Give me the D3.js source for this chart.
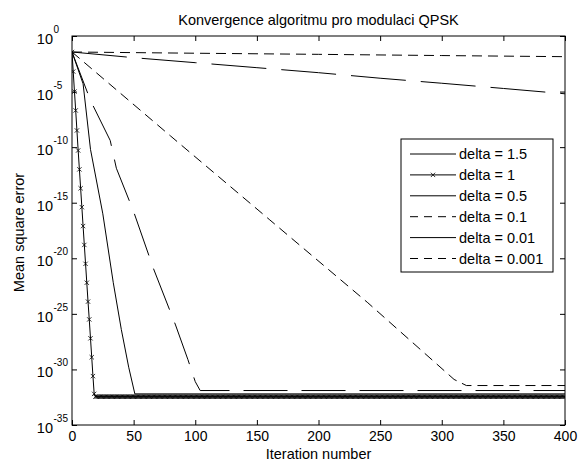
<!DOCTYPE html>
<html>
<head>
<meta charset="utf-8">
<script src="https://cdn.jsdelivr.net/npm/d3@7"></script>
<style>
  html, body { margin: 0; padding: 0; background: #fff; overflow: hidden; }
  svg { display: block; }
  svg text { font-family: "Liberation Sans", Arial, sans-serif; fill: #000; }
</style>
</head>
<body>
<div id="chart"></div>
<script>
// x ticks and y tick exponents
const iterTicks = [0, 50, 100, 150, 200, 250, 300, 350, 400];
const yTickExps = [0, -5, -10, -15, -20, -25, -30, -35];

// every series: iterations and log10(mean square error)
// delta = 1.5
const d15Iter = [0, 9, 15, 25, 33.5, 40, 46, 51, 400];
const d15Log = [-1.44, -4.3, -10.2, -16, -22.2, -26.4, -29.8, -32.2, -32.2];
// delta = 1 (a marker on every iteration)
const d1Log = [-1.44, -3.2, -5.0, -6.7, -8.5, -10.3, -12.0, -13.7, -15.4, -17.1,
  -18.8, -20.5, -22.2, -23.9, -25.5, -27.2, -28.9, -30.6, -32.2];
const d1FloorLog = -32.45; // stays there until iteration 400
// delta = 0.5
const d05Iter = [0, 15, 31, 36, 50, 66, 84, 94, 100, 104, 400];
const d05Log = [-1.44, -5.8, -9.4, -11.9, -15.8, -20.9, -26.0, -29.1, -31.1, -31.9, -31.9];
// delta = 0.1
const d01Iter = [0, 80, 160, 240, 310, 320, 400];
const d01Log = [-1.44, -9.0, -16.5, -24.0, -30.9, -31.45, -31.45];
// delta = 0.01
const d001Iter = [0, 50, 100, 150, 200, 250, 300, 350, 400];
const d001Log = [-1.44, -1.95, -2.4, -2.85, -3.3, -3.8, -4.25, -4.72, -5.2];
// delta = 0.001
const d0001Iter = [0, 100, 200, 300, 400];
const d0001Log = [-1.44, -1.55, -1.65, -1.76, -1.86];

const legendLabels = ['delta = 1.5', 'delta = 1', 'delta = 0.5', 'delta = 0.1', 'delta = 0.01', 'delta = 0.001'];

const width = 582, height = 464;
const margin = { top: 36, right: 17, bottom: 39, left: 72 };
const innerWidth = width - margin.left - margin.right,
    innerHeight = height - margin.top - margin.bottom;

const svg = d3.select('#chart')
    .append('svg')
    .attr('width', width)
    .attr('height', height);

const g = svg.append('g')
    .attr('transform', 'translate(' + margin.left + ',' + margin.top + ')');

const xScale = d3.scaleLinear().domain([0, 400]).range([0, innerWidth]);
const yScale = d3.scaleLog().domain([1e-35, 1]).range([innerHeight, 0]);
const yTickVals = yTickExps.map(e => Math.pow(10, e));

// ticks on all four sides, pointing inward
g.append('g')
    .attr('transform', 'translate(0,' + innerHeight + ')')
    .call(d3.axisBottom(xScale).tickValues(iterTicks).tickSizeInner(-5).tickSizeOuter(0).tickPadding(6.5))
    .call(a => a.select('.domain').remove())
    .selectAll('text').style('font-size', '14px').attr('font-family', null);

g.append('g')
    .call(d3.axisTop(xScale).tickValues(iterTicks).tickSizeInner(-5).tickSizeOuter(0))
    .call(a => a.select('.domain').remove())
    .call(a => a.selectAll('text').remove());

const yAxisG = g.append('g')
    .call(d3.axisLeft(yScale).tickValues(yTickVals).tickSizeInner(-5).tickSizeOuter(0))
    .call(a => a.select('.domain').remove())
    .call(a => a.selectAll('text').remove());

// 10 with a raised exponent
yAxisG.selectAll('.tick').each(function (d) {
    const t = d3.select(this);
    t.append('text')
        .attr('x', -19).attr('y', 7.5)
        .attr('text-anchor', 'end')
        .style('font-size', '14.5px')
        .text('10');
    t.append('text')
        .attr('x', -18.5).attr('y', -3.5)
        .attr('text-anchor', 'start')
        .style('font-size', '10px')
        .text(Math.round(Math.log10(d)));
});

g.append('g')
    .attr('transform', 'translate(' + innerWidth + ',0)')
    .call(d3.axisRight(yScale).tickValues(yTickVals).tickSizeInner(-5).tickSizeOuter(0))
    .call(a => a.select('.domain').remove())
    .call(a => a.selectAll('text').remove());

g.selectAll('.tick line').attr('stroke', '#000');

// curves
svg.append('clipPath').attr('id', 'clip')
    .append('rect').attr('width', innerWidth).attr('height', innerHeight);

const plot = g.append('g').attr('clip-path', 'url(#clip)');

const line = d3.line()
    .x(d => xScale(d[0]))
    .y(d => yScale(Math.pow(10, d[1])));

const zip = (xs, ys) => xs.map((x, i) => [x, ys[i]]);

const d1Points = d1Log.map((v, i) => [i, v])
    .concat(d3.range(d1Log.length, 401).map(i => [i, d1FloorLog]));

const series = [
    { pts: zip(d15Iter, d15Log), dash: null },
    { pts: d1Points, dash: null },
    { pts: zip(d05Iter, d05Log), dash: '44,14' },
    { pts: zip(d01Iter, d01Log), dash: '10,6' },
    { pts: zip(d001Iter, d001Log), dash: '55,15' },
    { pts: zip(d0001Iter, d0001Log), dash: '10,6' }
];

plot.selectAll('path.curve')
    .data(series)
    .enter()
    .append('path')
    .attr('class', 'curve')
    .attr('fill', 'none')
    .attr('stroke', '#000')
    .attr('stroke-width', 1)
    .attr('stroke-dasharray', d => d.dash)
    .attr('d', d => line(d.pts));

const xMark = d3.symbol().type(d3.symbolX).size(14);

plot.selectAll('path.mark')
    .data(d1Points)
    .enter()
    .append('path')
    .attr('class', 'mark')
    .attr('transform', d => 'translate(' + xScale(d[0]) + ',' + yScale(Math.pow(10, d[1])) + ')')
    .attr('d', xMark)
    .attr('fill', 'none')
    .attr('stroke', '#000')
    .attr('stroke-width', 0.8);

// frame
g.append('rect')
    .attr('width', innerWidth)
    .attr('height', innerHeight)
    .attr('fill', 'none')
    .attr('stroke', '#000')
    .attr('stroke-width', 1);

// legend
const legendDash = [null, null, null, '8,6', null, '8,6'];
const legend = g.append('g').attr('transform', 'translate(329,103)');
legend.append('rect')
    .attr('width', 152).attr('height', 133)
    .attr('fill', '#fff').attr('stroke', '#000');

const rows = legend.selectAll('g.row')
    .data(legendLabels)
    .enter()
    .append('g')
    .attr('class', 'row')
    .attr('transform', (d, i) => 'translate(0,' + (15 + i * 20.9) + ')');

rows.append('line')
    .attr('x1', 9).attr('x2', 55)
    .attr('stroke', '#000')
    .attr('stroke-dasharray', (d, i) => legendDash[i]);

rows.filter((d, i) => i === 1)
    .append('path')
    .attr('transform', 'translate(32,0)')
    .attr('d', xMark)
    .attr('fill', 'none')
    .attr('stroke', '#000')
    .attr('stroke-width', 0.8);

rows.append('text')
    .attr('x', 58).attr('y', 5)
    .style('font-size', '14.5px')
    .text(d => d);

// titles
svg.append('text')
    .attr('x', margin.left + innerWidth / 2).attr('y', 25)
    .attr('text-anchor', 'middle')
    .style('font-size', '14.5px')
    .text('Konvergence algoritmu pro modulaci QPSK');

svg.append('text')
    .attr('x', margin.left + innerWidth / 2).attr('y', 459)
    .attr('text-anchor', 'middle')
    .style('font-size', '14.5px')
    .text('Iteration number');

svg.append('text')
    .attr('transform', 'translate(24,' + (margin.top + innerHeight / 2 + 2) + ') rotate(-90)')
    .attr('text-anchor', 'middle')
    .style('font-size', '14.5px')
    .text('Mean square error');
</script>
</body>
</html>
